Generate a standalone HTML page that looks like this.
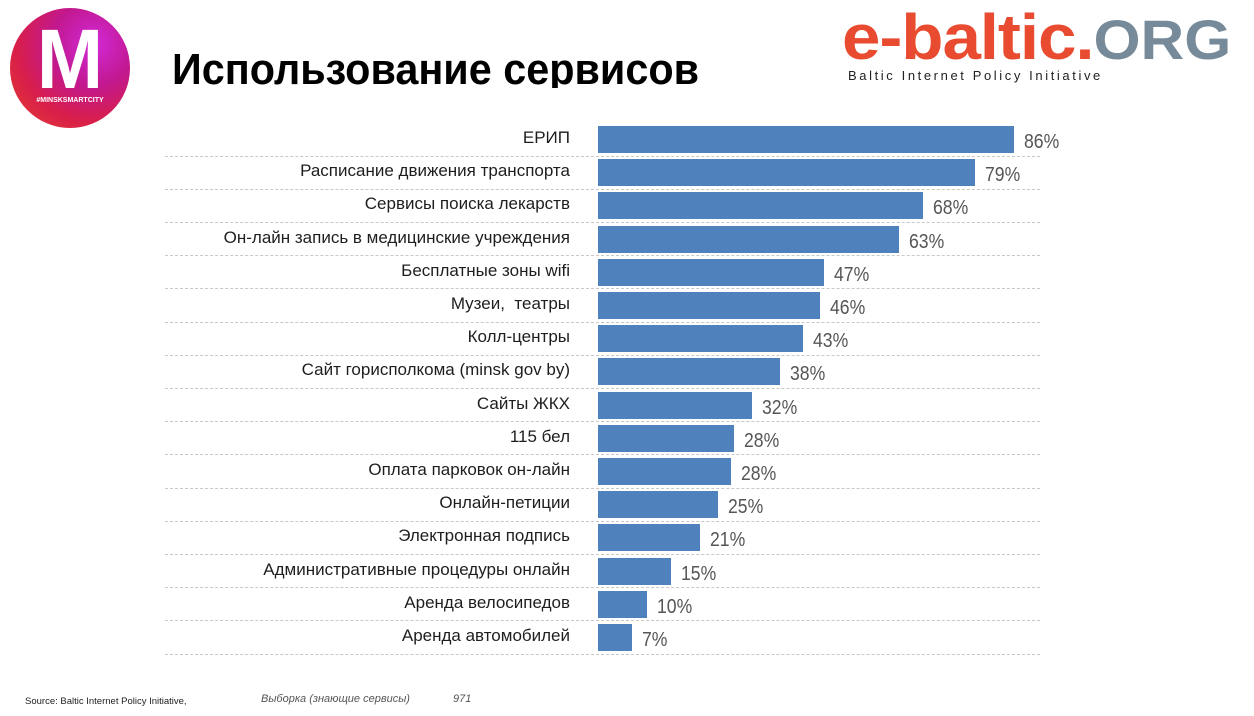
<!DOCTYPE html>
<html><head><meta charset="utf-8"><style>
body{margin:0;width:1254px;height:716px;background:#fff;position:relative;overflow:hidden;font-family:"Liberation Sans","DejaVu Sans",sans-serif}
.a{position:absolute}
.lab{position:absolute;right:684px;font-size:17px;color:#1e1e1e;white-space:nowrap;line-height:20px}
.bar{position:absolute;left:598px;height:27px;background:#4f81bd}
.val{position:absolute;font-size:20px;color:#555;white-space:nowrap;transform:scaleX(0.88);transform-origin:left;line-height:24px}
.grid{position:absolute;left:165px;width:875px;border-top:1px dashed #c8c8c8}
</style></head><body>
<div class="a" style="left:10px;top:8px;width:120px;height:120px;border-radius:50%;background:radial-gradient(circle at 70% 30%,#d12ad8 0%,#c2188f 35%,#d81e4a 65%,#e8452e 100%)"></div>
<div class="a" style="left:30px;top:14px;width:80px;text-align:center;color:#fff;font-weight:bold;font-size:84px;line-height:90px;transform:scaleX(0.95)">M</div>
<div class="a" style="left:28px;top:97px;width:84px;text-align:center;color:#fff;font-weight:bold;font-size:7px">#MINSKSMARTCITY</div>
<div class="a" style="left:172px;top:44px;height:44px;overflow:hidden;font-size:44px;font-weight:bold;color:#000;line-height:52px;white-space:nowrap;transform:scaleX(0.94);transform-origin:left">Использование сервисов</div>
<div class="a" style="left:842px;top:4px;font-size:64px;font-weight:bold;color:#e84b30;line-height:66px;letter-spacing:-1px;white-space:nowrap;transform:scaleX(1.08);transform-origin:left">e-baltic.<span style="color:#768a9a;font-size:56px;letter-spacing:0">ORG</span></div>
<div class="a" style="left:848px;top:68px;font-size:13px;color:#222;letter-spacing:2.6px">Baltic Internet Policy Initiative</div>
<div id="c"></div>
<div class="a" style="left:25px;top:696px;font-size:9.5px;color:#222">Source: Baltic Internet Policy Initiative,</div>
<div class="a" style="left:261px;top:693px;font-size:11px;color:#555;font-style:italic">Выборка (знающие сервисы)</div>
<div class="a" style="left:453px;top:693px;font-size:11px;color:#555;font-style:italic">971</div>
<script>
var d=[["ЕРИП",86,1014],["Расписание движения транспорта",79,975],["Сервисы поиска лекарств",68,923],["Он-лайн запись в медицинские учреждения",63,899],["Бесплатные зоны wifi",47,824],["Музеи,  театры",46,820],["Колл-центры",43,803],["Сайт горисполкома (minsk gov by)",38,780],["Сайты ЖКХ",32,752],["115 бел",28,734],["Оплата парковок он-лайн",28,731],["Онлайн-петиции",25,718],["Электронная подпись",21,700],["Административные процедуры онлайн",15,671],["Аренда велосипедов",10,647],["Аренда автомобилей",7,632]];
var h="";
d.forEach(function(r,i){var t=126+i*33.2;
h+='<div class="lab" style="top:'+(t+2)+'px">'+r[0].replace(/  /g,"&nbsp; ")+'</div>';
h+='<div class="bar" style="top:'+t+'px;width:'+(r[2]-598)+'px"></div>';
h+='<div class="val" style="left:'+(r[2]+10)+'px;top:'+(t+4)+'px">'+r[1]+'%</div>';
h+='<div class="grid" style="top:'+(t+29.5)+'px"></div>';});
document.getElementById("c").innerHTML=h;
</script>
</body></html>
